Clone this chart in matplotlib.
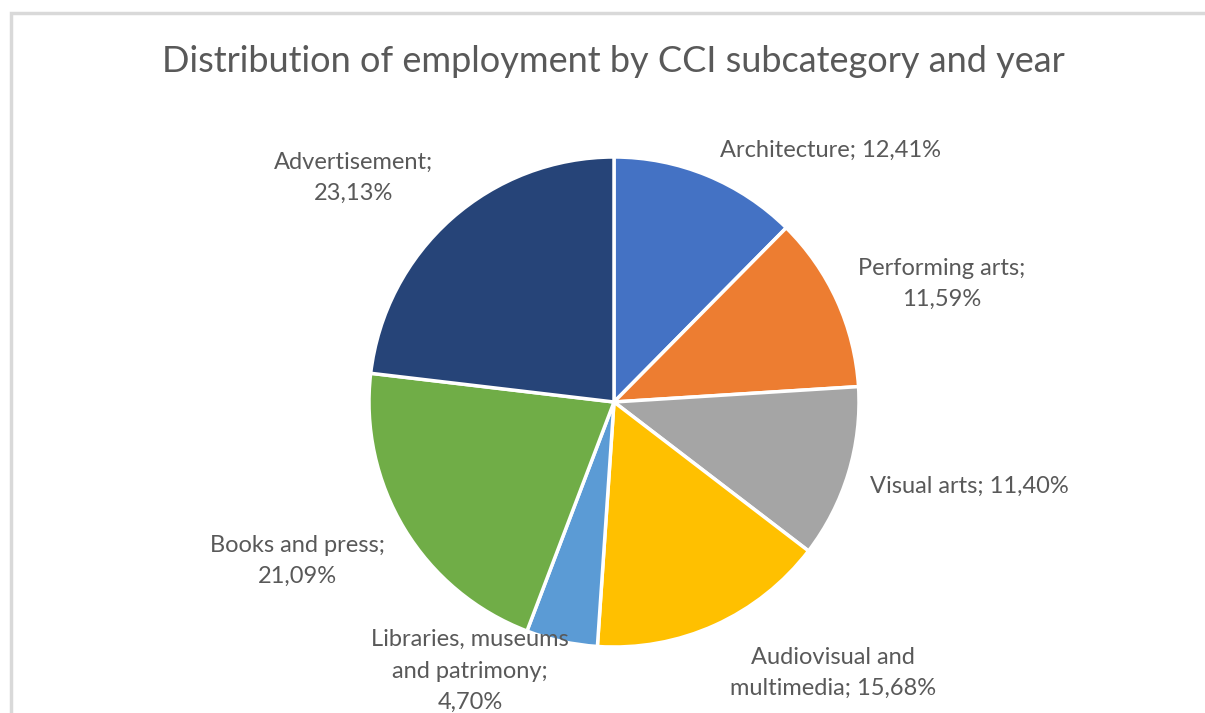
import matplotlib.pyplot as plt

# Slice data, clockwise from 12 o'clock.
categories = ['Architecture', 'Performing arts', 'Visual arts',
              'Audiovisual and multimedia', 'Libraries, museums and patrimony',
              'Books and press', 'Advertisement']
shares = [12.41, 11.59, 11.40, 15.68, 4.70, 21.09, 23.13]
label_texts = ['Architecture; 12,41%', 'Performing arts;\n11,59%',
               'Visual arts; 11,40%', 'Audiovisual and\nmultimedia; 15,68%',
               'Libraries, museums\nand patrimony;\n4,70%',
               'Books and press;\n21,09%', 'Advertisement;\n23,13%']
colors = ['#4472C4', '#ED7D31', '#A5A5A5', '#FFC000', '#5B9BD5', '#70AD47', '#264478']

# Label anchor positions in pixel coordinates (x, y from top).
label_pos = [(830, 150), (942, 284), (969, 486), (833, 673),
             (470, 671), (297, 561), (354, 178)]

W, H = 1205, 713
fig = plt.figure(figsize=(W / 100, H / 100), dpi=100)
ax = fig.add_axes([0, 0, 1, 1])
ax.set_xlim(0, W)
ax.set_ylim(0, H)
ax.set_aspect('equal')
ax.axis('off')

# Chart border (top and left edges visible).
ax.plot([11, 11, W], [0, H - 13, H - 13], color='#D9D9D9', lw=2.5,
        solid_joinstyle='miter', zorder=0)

ax.pie(shares, colors=colors, startangle=90, counterclock=False,
       center=(614, H - 402), radius=245,
       wedgeprops=dict(edgecolor='white', linewidth=2.5))
ax.set_xlim(0, W)
ax.set_ylim(0, H)

for txt, (x, y) in zip(label_texts, label_pos):
    ax.text(x, H - y, txt, ha='center', va='center', fontsize=17,
            family='Lato', color='#595959', linespacing=1.6)

ax.text(613, H - 62, 'Distribution of employment by CCI subcategory and year',
        ha='center', va='center', fontsize=26, family='Lato', color='#595959')

plt.savefig('out.png', dpi=100)
plt.close(fig)
